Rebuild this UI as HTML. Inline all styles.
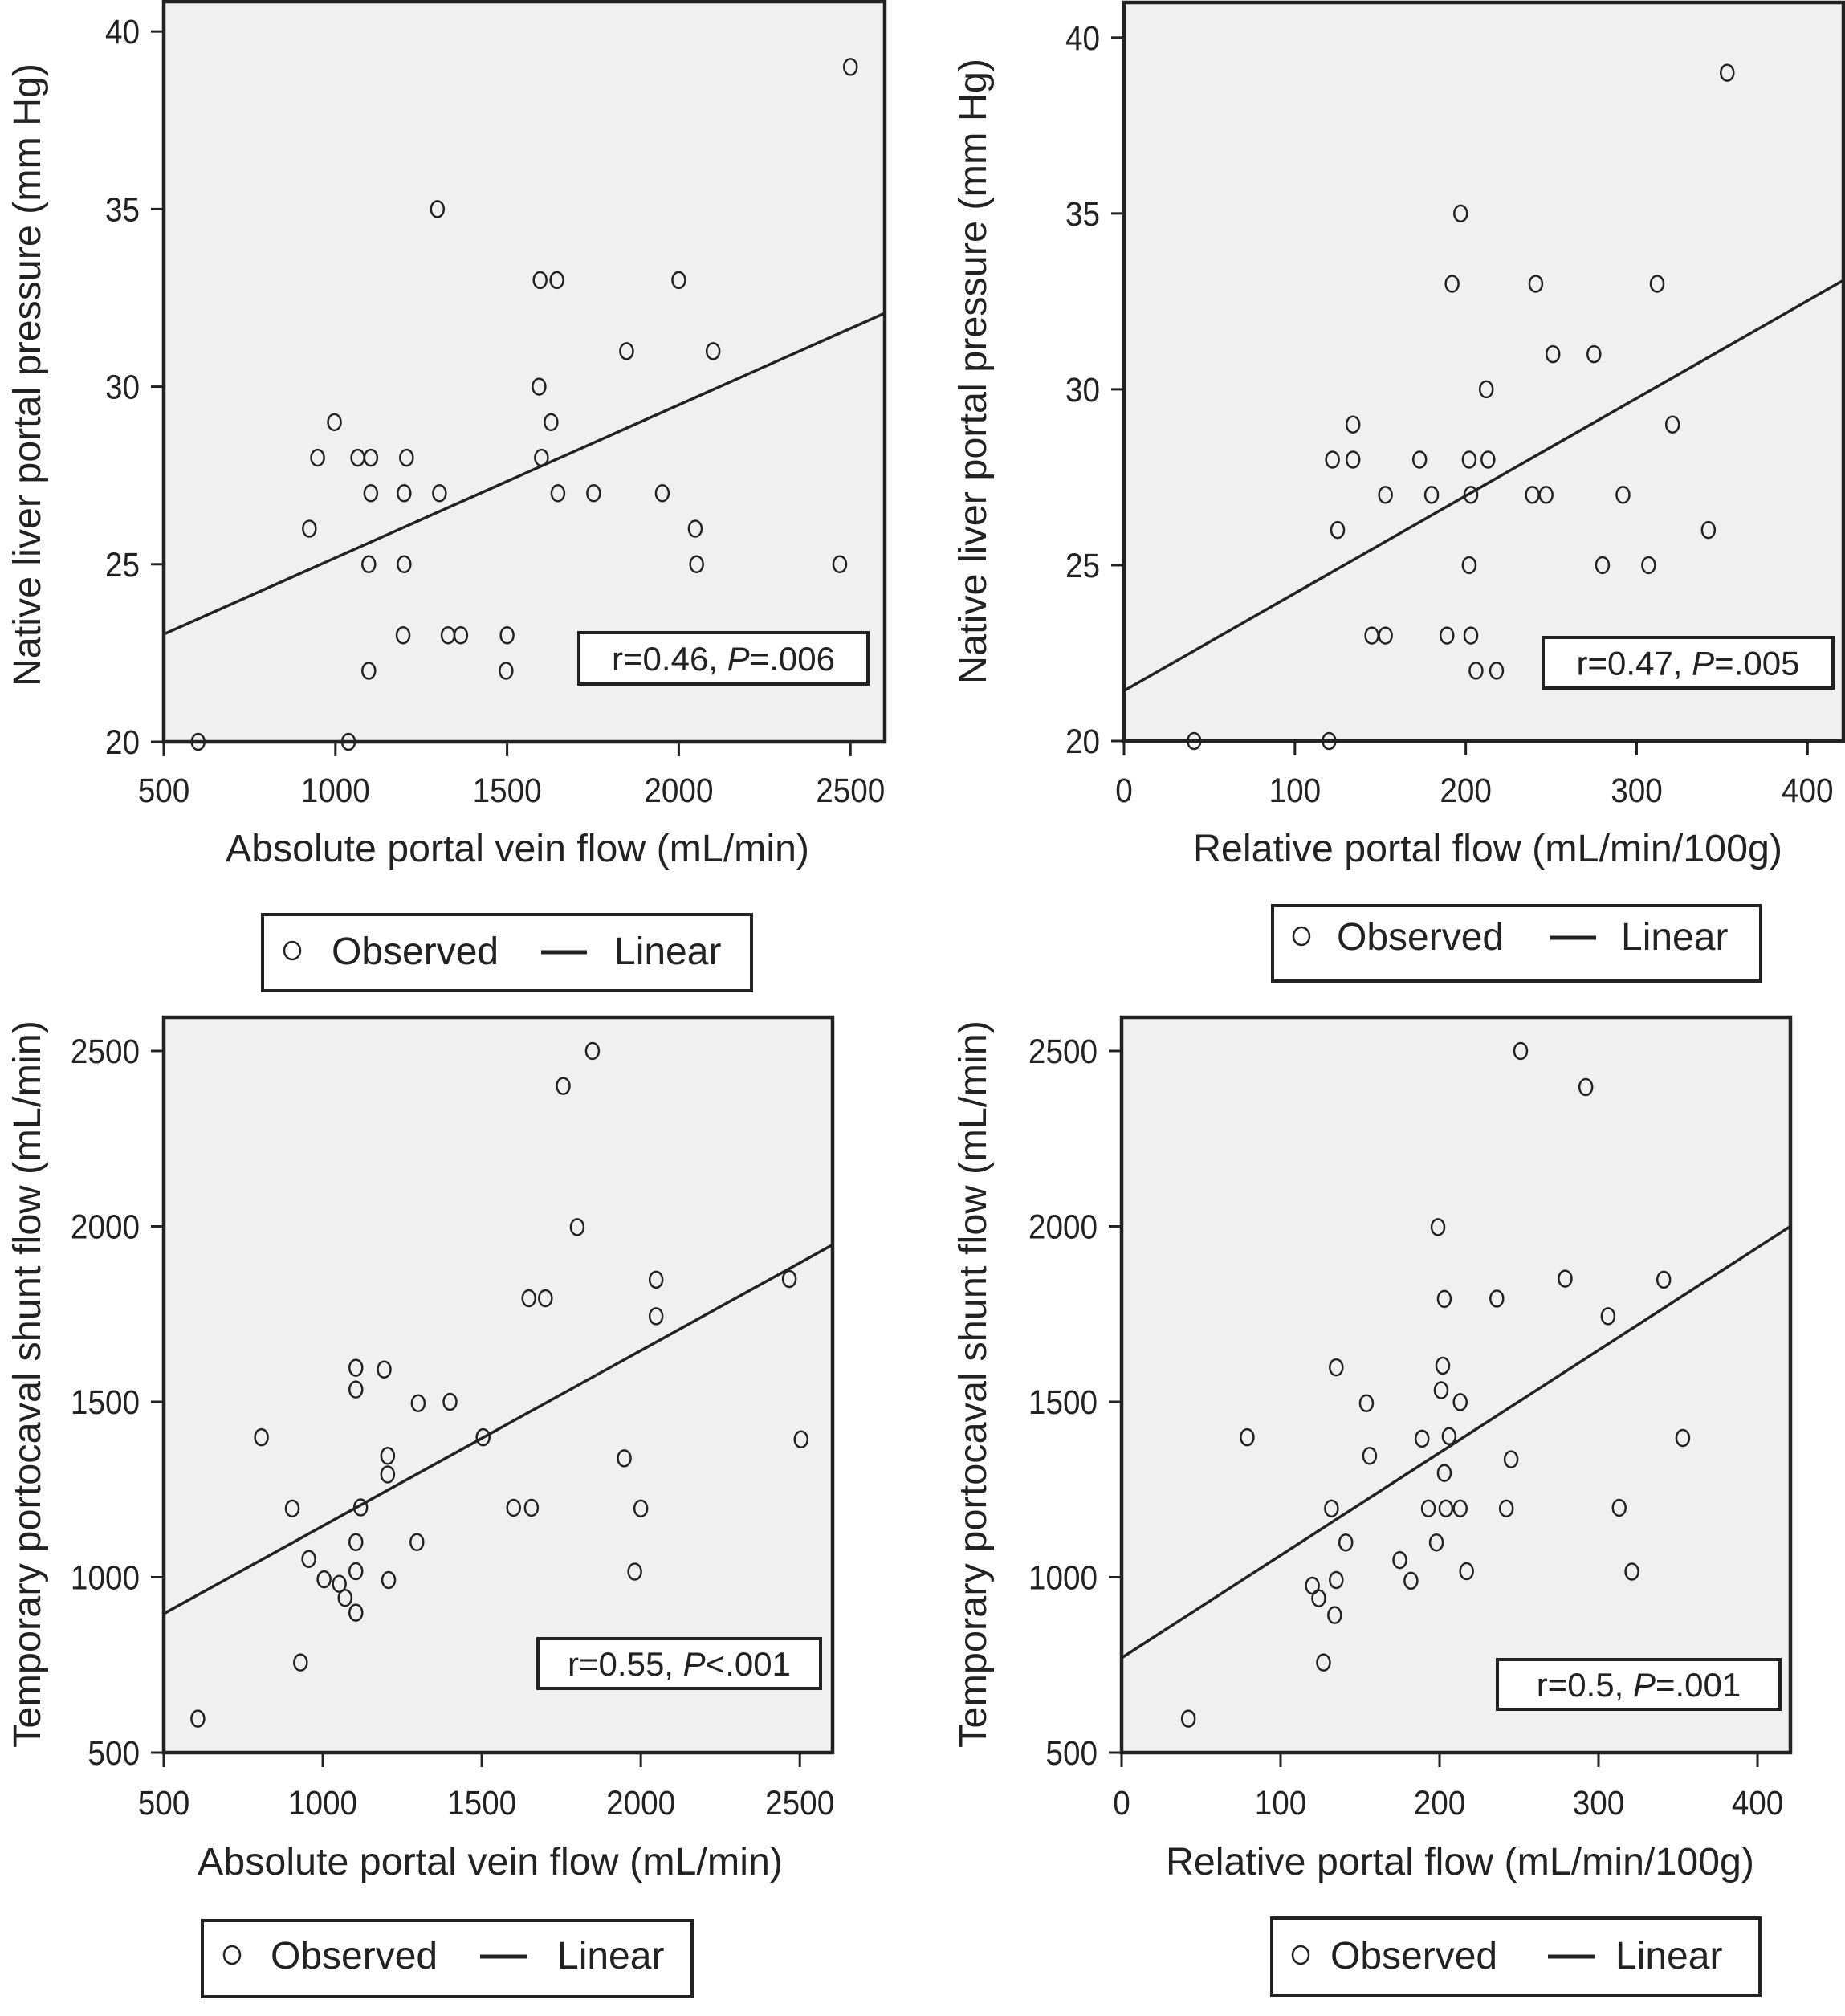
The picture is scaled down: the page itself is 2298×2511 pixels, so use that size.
<!DOCTYPE html>
<html><head><meta charset="utf-8"><style>
html,body{margin:0;padding:0;background:#fff}
svg{display:block;font-family:"Liberation Sans",Arial,sans-serif}
</style></head><body>
<svg id="chart" width="2298" height="2511" viewBox="0 0 2298 2511" xmlns="http://www.w3.org/2000/svg"></svg>
<script>
// Panel A: absolute flow vs native pressure
const p1X = [600,1038,924,948,997,1065,1103,1103,1097,1097,1207,1200,1200,1197,1297,1303,1328,1365,1500,1497,1596,1645,1593,1600,1628,1648,1752,1848,1952,2000,2048,2052,2100,2469,2500];
const p1Y = [20,20,26,28,29,28,28,27,25,22,28,27,25,23,35,27,23,23,23,22,33,33,30,28,29,27,27,31,27,33,26,25,31,25,39];
const p1FitX = [500,2600];
const p1FitY = [23.03,32.07];
const p1XTicks = [500,1000,1500,2000,2500];
const p1YTicks = [20,25,30,35,40];
// Panel B: relative flow vs native pressure
const p2X = [41,120,122,125,134,134,145,153,153,173,180,189,192,197,202,202,203,203,206,212,213,218,239,241,247,251,275,280,292,307,312,321,342,353];
const p2Y = [20,20,28,26,29,28,23,23,27,28,27,23,33,35,28,25,27,23,22,30,28,22,27,33,27,31,31,25,27,25,33,29,26,39];
const p2FitX = [0,421];
const p2FitY = [21.43,33.1];
const p2XTicks = [0,100,200,300,400];
const p2YTicks = [20,25,30,35,40];
// Panel C: absolute flow vs shunt flow
const p3X = [607,807,904,930,956,1004,1052,1070,1104,1104,1104,1104,1104,1119,1193,1204,1204,1207,1300,1296,1400,1504,1600,1656,1648,1700,1756,1800,1848,1948,1981,2000,2048,2048,2467,2504];
const p3Y = [597,1399,1196,757,1052,994,981,941,899,1017,1100,1535,1597,1199,1592,1346,1293,992,1496,1100,1500,1399,1198,1198,1795,1795,2400,1998,2500,1339,1016,1196,1848,1744,1850,1393];
const p3FitX = [500,2600];
const p3FitY = [896,1946];
const p3XTicks = [500,1000,1500,2000,2500];
const p3YTicks = [500,1000,1500,2000,2500];
// Panel D: relative flow vs shunt flow
const p4X = [42,79,120,124,127,134,135,132,135,141,154,156,175,182,189,193,198,199,201,202,203,203,204,206,213,213,217,236,242,245,251,279,292,306,313,321,341,353];
const p4Y = [597,1399,976,940,757,892,992,1196,1598,1099,1496,1346,1049,990,1395,1196,1099,1998,1533,1603,1793,1297,1196,1402,1499,1196,1017,1794,1196,1336,2500,1851,2397,1744,1198,1016,1848,1397];
const p4FitX = [0,420.7];
const p4FitY = [770,2000];
const p4XTicks = [0,100,200,300,400];
const p4YTicks = [500,1000,1500,2000,2500];

const svg = document.getElementById('chart');
const NS = 'http://www.w3.org/2000/svg';
function mk(tag, attrs, parent){
  const e = document.createElementNS(NS, tag);
  for (const k in attrs) e.setAttribute(k, attrs[k]);
  (parent||svg).appendChild(e);
  return e;
}

function panel(cfg, xs, ys, fx, fy, xt, yt){
  const g = mk('g', {});
  
  
  const sx = v => cfg.L + (v - cfg.x0) / (cfg.x1 - cfg.x0) * (cfg.R - cfg.L);
  const sy = v => cfg.B - (v - cfg.y0) / (cfg.y1 - cfg.y0) * (cfg.B - cfg.T);
  const bg = mk('rect', {x:cfg.L, y:cfg.T, width:cfg.R-cfg.L, height:cfg.B-cfg.T, fill:'#f0f0f0', stroke:'none'}, g);
  
  
  xt.forEach(v => {
    const t = mk('line', {x1:sx(v), x2:sx(v), y1:cfg.B, y2:cfg.B+18, stroke:'#222', 'stroke-width':3}, g);
    
    
    const lb = mk('text', {x:sx(v), y:cfg.tickBase, 'font-size':43, 'text-anchor':'middle', fill:'#222', transform:'translate('+sx(v)+' 0) scale(0.9 1) translate('+(-sx(v))+' 0)'}, g);
    
    
    lb.textContent = v;
  });
  yt.forEach(v => {
    const t = mk('line', {x1:cfg.L-16, x2:cfg.L, y1:sy(v), y2:sy(v), stroke:'#222', 'stroke-width':3}, g);
    
    
    const ax = cfg.L-30;
    const lb = mk('text', {x:ax, y:sy(v)+15, 'font-size':43, 'text-anchor':'end', fill:'#222', transform:'translate('+ax+' 0) scale(0.9 1) translate('+(-ax)+' 0)'}, g);
    
    
    lb.textContent = v;
  });
  const ln = mk('line', {x1:sx(fx[0]), y1:sy(fy[0]), x2:sx(fx[1]), y2:sy(fy[1]), stroke:'#222', 'stroke-width':3.5}, g);
  
  
  xs.forEach((v,i) => {
    const c = mk('ellipse', {cx:sx(v), cy:sy(ys[i]), rx:8, ry:10, fill:'none', stroke:'#222', 'stroke-width':2.5}, g);
    
    
  });
  const fr = mk('rect', {x:cfg.L, y:cfg.T, width:cfg.R-cfg.L, height:cfg.B-cfg.T, fill:'none', stroke:'#222', 'stroke-width':4.5}, g);
  
  
  const sb = mk('rect', {x:cfg.sb[0], y:cfg.sb[1], width:cfg.sb[2]-cfg.sb[0], height:cfg.sb[3]-cfg.sb[1], fill:'#fff', stroke:'#222', 'stroke-width':4}, g);
  
  
  const st = mk('text', {x:(cfg.sb[0]+cfg.sb[2])/2, y:(cfg.sb[1]+cfg.sb[3])/2+15, 'font-size':42, 'text-anchor':'middle', fill:'#222'}, g);
  
  
  st.innerHTML = cfg.stat;
  const xtl = mk('text', {x:cfg.xtx[0], y:cfg.xtx[2], 'font-size':48, textLength:cfg.xtx[1]-cfg.xtx[0], lengthAdjust:'spacingAndGlyphs', fill:'#222'}, g);
  
  
  xtl.textContent = cfg.xTitle;
  const yc = (cfg.yty[0]+cfg.yty[1])/2;
  const ytl = mk('text', {x:cfg.ytx, y:yc, 'font-size':48, 'text-anchor':'middle', textLength:cfg.yty[1]-cfg.yty[0], lengthAdjust:'spacingAndGlyphs', fill:'#222', transform:'rotate(-90 '+cfg.ytx+' '+yc+')'}, g);
  
  
  ytl.textContent = cfg.yTitle;
  const lg = mk('g', {}, g);
  
  
  const L = cfg.leg;
  mk('rect', {x:L.box[0], y:L.box[1], width:L.box[2]-L.box[0], height:L.box[3]-L.box[1], fill:'#fff', stroke:'#222', 'stroke-width':4}, lg);
  const lc = mk('ellipse', {cx:L.cx, cy:L.base-17, rx:10, ry:11, fill:'none', stroke:'#222', 'stroke-width':2.5}, lg);
  
  
  const t1 = mk('text', {x:L.ox, y:L.base, 'font-size':48, fill:'#222'}, lg);
  
  
  t1.textContent = 'Observed';
  const ll = mk('line', {x1:L.l[0], x2:L.l[1], y1:L.base-15, y2:L.base-15, stroke:'#222', 'stroke-width':5}, lg);
  
  
  const t2 = mk('text', {x:L.lx, y:L.base, 'font-size':48, fill:'#222'}, lg);
  
  
  t2.textContent = 'Linear';
}

panel({name:'panel-absolute-vs-pressure', L:204, R:1102, T:2, B:924, x0:500, x1:2600, y0:20, y1:40.84, tickBase:999,
  sb:[721,788,1081,852], stat:'r=0.46, <tspan font-style="italic">P</tspan>=.006',
  xTitle:'Absolute portal vein flow (mL/min)', xtx:[281,1008,1073],
  yTitle:'Native liver portal pressure (mm Hg)', ytx:50, yty:[79,855],
  leg:{box:[327,1139,936,1234], cx:364, ox:413, l:[674,731], lx:765, base:1201}},
  p1X, p1Y, p1FitX, p1FitY, p1XTicks, p1YTicks);

panel({name:'panel-relative-vs-pressure', L:1400, R:2296, T:3, B:923, x0:0, x1:421, y0:20, y1:41.0, tickBase:999,
  sb:[1922,794,2283,857], stat:'r=0.47, <tspan font-style="italic">P</tspan>=.005',
  xTitle:'Relative portal flow (mL/min/100g)', xtx:[1486,2220,1073],
  yTitle:'Native liver portal pressure (mm Hg)', ytx:1228, yty:[73,852],
  leg:{box:[1585,1128,2193,1222], cx:1621, ox:1665, l:[1931,1988], lx:2019, base:1183}},
  p2X, p2Y, p2FitX, p2FitY, p2XTicks, p2YTicks);

panel({name:'panel-absolute-vs-shunt', L:204, R:1037, T:1267, B:2183, x0:500, x1:2603, y0:500, y1:2596, tickBase:2260,
  sb:[670,2041,1022,2103], stat:'r=0.55, <tspan font-style="italic">P</tspan>&lt;.001',
  xTitle:'Absolute portal vein flow (mL/min)', xtx:[246,975,2335],
  yTitle:'Temporary portocaval shunt flow (mL/min)', ytx:50, yty:[1271,2177],
  leg:{box:[252,2392,862,2487], cx:289, ox:337, l:[598,657], lx:694, base:2452}},
  p3X, p3Y, p3FitX, p3FitY, p3XTicks, p3YTicks);

panel({name:'panel-relative-vs-shunt', L:1397, R:2230, T:1267, B:2183, x0:0, x1:420.7, y0:500, y1:2596, tickBase:2260,
  sb:[1865,2067,2217,2129], stat:'r=0.5, <tspan font-style="italic">P</tspan>=.001',
  xTitle:'Relative portal flow (mL/min/100g)', xtx:[1452,2185,2335],
  yTitle:'Temporary portocaval shunt flow (mL/min)', ytx:1228, yty:[1271,2177],
  leg:{box:[1584,2389,2192,2485], cx:1620, ox:1657, l:[1928,1987], lx:2012, base:2452}},
  p4X, p4Y, p4FitX, p4FitY, p4XTicks, p4YTicks);
</script>
</body></html>
